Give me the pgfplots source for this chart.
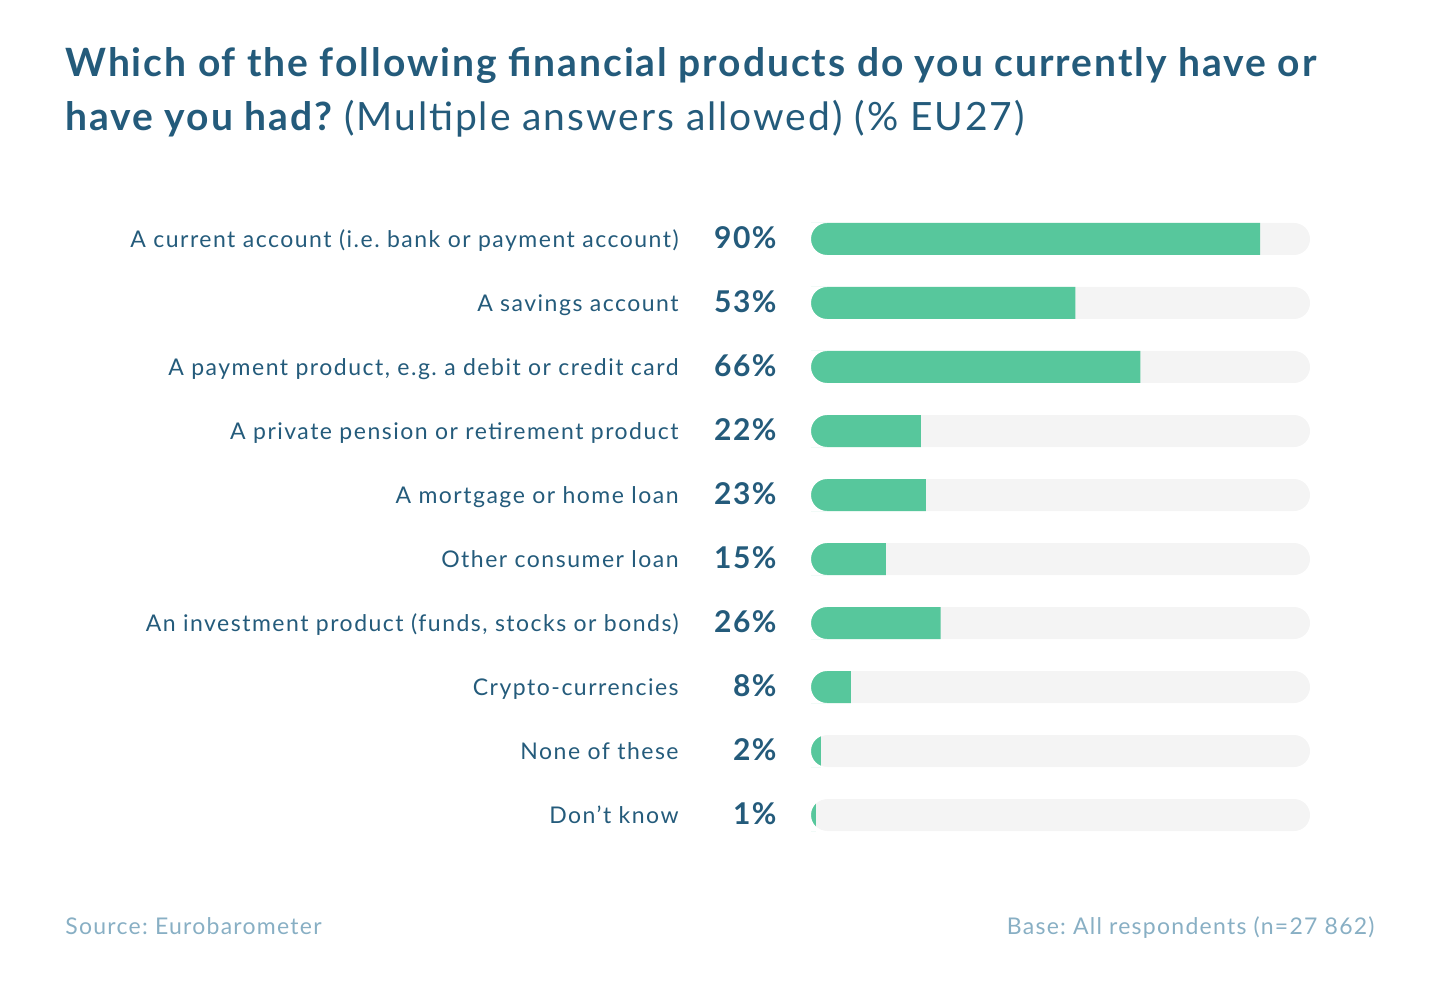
\documentclass[border=0pt]{standalone}
\usepackage{fontspec}
\setmainfont{Lato}
\usepackage{pgfplots}
\pgfplotsset{compat=1.18}
\frenchspacing
\definecolor{titleblue}{HTML}{245B7B}
\definecolor{bargreen}{HTML}{57C79C}
\definecolor{track}{HTML}{F4F4F4}
\definecolor{srcblue}{HTML}{88AFC4}
\pgfdeclareplotmark{leftcap}{%
  \pgfpathmoveto{\pgfqpoint{-1pt}{8.2pt}}%
  \pgfpathlineto{\pgfqpoint{8pt}{8.2pt}}%
  \pgfpathlineto{\pgfqpoint{8pt}{8pt}}%
  \pgfpatharc{90}{270}{8pt}%
  \pgfpathlineto{\pgfqpoint{8pt}{-8.2pt}}%
  \pgfpathlineto{\pgfqpoint{-1pt}{-8.2pt}}%
  \pgfpathclose
  \pgfusepathqfill}
\newcommand\titlefont{\fontsize{19.5pt}{23pt}\selectfont\addfontfeatures{LetterSpace=5}}
\newcommand\labelfont{\fontsize{11.5pt}{13pt}\selectfont\addfontfeatures{LetterSpace=6.5}}
\newcommand\pctfont{\fontsize{15pt}{17pt}\selectfont\bfseries\addfontfeatures{LetterSpace=5}}
\newcommand\srcfont{\fontsize{11.5pt}{13pt}\selectfont\addfontfeatures{LetterSpace=5.5}}
\begin{document}
\begin{tikzpicture}
\useasboundingbox (0,0) rectangle (720pt,500pt);
\node[anchor=base west, inner sep=0pt, text=titleblue, font=\bfseries\titlefont] at (32.5pt,461.5pt) {Which of the following financial products do you currently have or};
\node[anchor=base west, inner sep=0pt, text=titleblue, font=\titlefont] at (32.5pt,434.5pt) {{\bfseries\titlefont have you had?} (Multiple answers allowed) (\% EU27)};
\begin{axis}[
  at={(405.5pt,396.5pt)}, anchor=north west,
  scale only axis, width=249.5pt, height=320pt,
  xmin=0, xmax=100, ymin=-0.5, ymax=9.5, y dir=reverse,
  clip=false,
  axis line style={draw=none}, tick style={draw=none},
  xtick=\empty, ytick={0,...,9},
  yticklabels={A current account (i.e. bank or payment account),A savings account,{A payment product, e.g. a debit or credit card},A private pension or retirement product,A mortgage or home loan,Other consumer loan,{An investment product (funds, stocks or bonds)},Crypto-currencies,None of these,Don't know},
  yticklabel style={anchor=east, inner sep=0pt, xshift=-66pt, yshift=-0.5pt, text=titleblue, font=\labelfont, text height=0.72em, text depth=0pt},
]
\addplot[xbar, bar width=16pt, bar shift=0pt, fill=track, draw=none, rounded corners=8pt] coordinates {(100,0) (100,1) (100,2) (100,3) (100,4) (100,5) (100,6) (100,7) (100,8) (100,9)};
\addplot[xbar, bar width=16pt, bar shift=0pt, fill=bargreen, draw=none] coordinates {(90,0) (53,1) (66,2) (22,3) (23,4) (15,5) (26,6) (8,7) (2,8) (1,9)};
\addplot[only marks, mark=leftcap, mark options={fill=white, draw=none}] coordinates {(0,0) (0,1) (0,2) (0,3) (0,4) (0,5) (0,6) (0,7) (0,8) (0,9)};
\addplot[draw=none, mark=none, point meta=explicit symbolic, nodes near coords,
  every node near coord/.style={anchor=east, inner sep=0pt, xshift=-17pt, yshift=-1.2pt, text=titleblue, font=\pctfont, text height=0.72em, text depth=0pt}]
  coordinates {(0,0) [90\%] (0,1) [53\%] (0,2) [66\%] (0,3) [22\%] (0,4) [23\%] (0,5) [15\%] (0,6) [26\%] (0,7) [8\%] (0,8) [2\%] (0,9) [1\%]};
\end{axis}
\node[anchor=base west, inner sep=0pt, text=srcblue, font=\srcfont] at (32.5pt,32.5pt) {Source: Eurobarometer};
\node[anchor=base east, inner sep=0pt, text=srcblue, font=\srcfont] at (687.5pt,32.5pt) {Base: All respondents (n=27 862)};
\end{tikzpicture}
\end{document}
